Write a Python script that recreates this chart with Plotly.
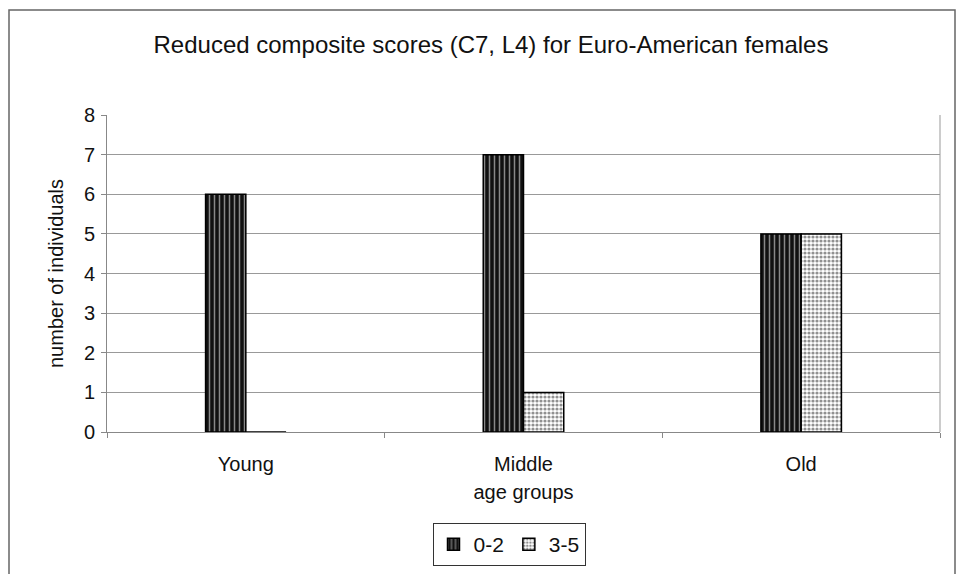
import plotly.graph_objects as go

categories = ["Young", "Middle", "Old"]
series_0_2 = [6, 7, 5]
series_3_5 = [0, 1, 5]
y_ticks = [0, 1, 2, 3, 4, 5, 6, 7, 8]

OFF = 8  # page body margin
W, H = 965 - OFF, 574 - OFF
L = 107 - OFF
T = 115 - OFF
R = W - (940 - OFF)
B = H - (432 - OFF)
pw, ph = W - L - R, H - T - B

def px_x(p):
    return (p - OFF - L) / pw

def px_y(p):
    return (H - B - (p - OFF)) / ph

fig = go.Figure()
fig.add_trace(go.Bar(
    x=categories, y=series_0_2, name="0-2",
    marker=dict(color="#111", line=dict(color="black", width=1.5),
                pattern=dict(shape="|", fgcolor="white", fillmode="overlay",
                             size=5, solidity=0.3)),
))
fig.add_trace(go.Bar(
    x=categories, y=series_3_5, name="3-5",
    marker=dict(color="white", line=dict(color="black", width=1.5),
                pattern=dict(shape=".", fgcolor="#222", bgcolor="white",
                             size=4, solidity=0.5)),
))

fig.update_layout(
    width=W, height=H,
    margin=dict(l=L, r=R, t=T, b=B, autoexpand=False),
    paper_bgcolor="white", plot_bgcolor="white",
    font=dict(family="Liberation Sans, Arial, sans-serif", color="#111"),
    barmode="group", bargap=0.71, bargroupgap=0,
    title=dict(text="Reduced composite scores (C7, L4) for Euro-American females",
               x=(491 - OFF) / W, xanchor="center", y=1 - (45 - OFF) / H, yanchor="middle",
               font=dict(size=24)),
    xaxis=dict(
        showline=True, linecolor="#888", linewidth=1,
        ticks="outside", tickson="boundaries", ticklen=5, tickcolor="#888",
        tickfont=dict(size=20), ticklabelstandoff=14,
        title=dict(text="age groups", font=dict(size=20), standoff=10),
        showgrid=False,
    ),
    yaxis=dict(
        range=[0, 8], tickvals=y_ticks, ticks="outside", ticklen=5, tickcolor="#888",
        showline=True, linecolor="#888", linewidth=1,
        showgrid=True, gridcolor="#999", gridwidth=1,
        tickfont=dict(size=20), ticklabelstandoff=2,
        title=dict(text="number of individuals", font=dict(size=20), standoff=14),
        zeroline=False,
    ),
    showlegend=True,
    legend=dict(orientation="h", x=px_x(509), xanchor="center",
                y=px_y(523), yanchor="top",
                bordercolor="#333", borderwidth=1, bgcolor="white",
                font=dict(size=21), itemwidth=30, tracegroupgap=0),
    shapes=[
        dict(type="rect", xref="paper", yref="paper",
             x0=px_x(9), x1=px_x(955), y0=px_y(600), y1=px_y(10),
             line=dict(color="#666", width=1.5), layer="below"),
        dict(type="line", xref="paper", yref="paper",
             x0=1, x1=1, y0=0, y1=1, line=dict(color="#999", width=1)),
    ],
)

fig.write_html("out.html")
